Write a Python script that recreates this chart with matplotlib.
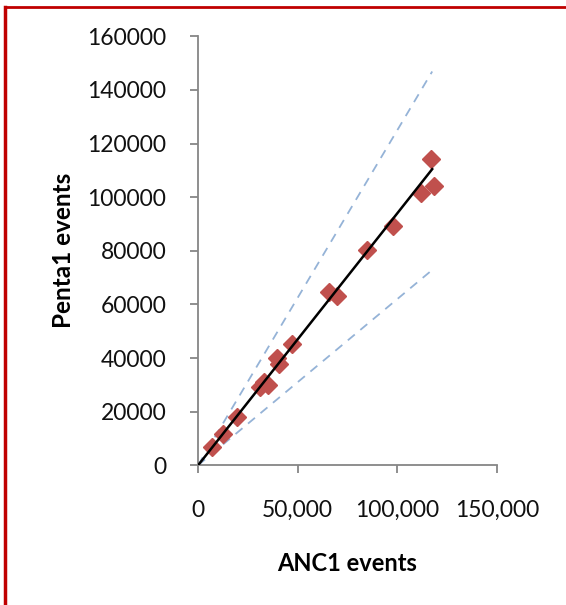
#! /usr/bin/env python3

import matplotlib
matplotlib.use("Agg")
import matplotlib.pyplot as plt
from matplotlib.lines import Line2D
from matplotlib.ticker import FuncFormatter

anc1_events = [7000, 12500, 19500, 31000, 33000, 35000, 39500, 40500, 47000,
               65500, 69500, 85000, 98000, 112000, 117000, 118500]
penta1_events = [6700, 11600, 17900, 29100, 31000, 30000, 39900, 37700, 45100,
                 64500, 63000, 80200, 89100, 101500, 114100, 104100]

fit_slope = 0.94
upper_slope = 1.25
lower_slope = 0.62
line_x = [0, 117500]

x_ticks = [0, 50000, 100000, 150000]
y_ticks = [0, 20000, 40000, 60000, 80000, 100000, 120000, 140000, 160000]

MARKER_COLOR = "#C0504D"
BAND_COLOR = "#95B3D7"
AXIS_COLOR = "#868686"
BORDER_COLOR = "#C00000"

plt.rcParams["font.family"] = ["Lato", "DejaVu Sans"]

fig = plt.figure(figsize=(5.66, 6.05), dpi=100)
ax = fig.add_axes([0.35, 0.231, 0.528, 0.709])

ax.plot(line_x, [upper_slope * x for x in line_x], color=BAND_COLOR, lw=1.3, ls=(0, (5, 4)), zorder=1)
ax.plot(line_x, [lower_slope * x for x in line_x], color=BAND_COLOR, lw=1.3, ls=(0, (5, 4)), zorder=1)
ax.plot(anc1_events, penta1_events, ls="none", marker="D", ms=9.5, color=MARKER_COLOR, zorder=2)
ax.plot(line_x, [fit_slope * x for x in line_x], color="black", lw=1.8, zorder=3)

ax.set_xlim(0, 150000)
ax.set_ylim(0, 160000)
ax.set_xticks(x_ticks)
ax.set_yticks(y_ticks)
ax.xaxis.set_major_formatter(FuncFormatter(lambda v, p: f"{int(v):,}"))
ax.yaxis.set_major_formatter(FuncFormatter(lambda v, p: f"{int(v)}"))
ax.tick_params(axis="both", direction="out", length=6, width=1.3, color=AXIS_COLOR,
               labelsize=16.5, labelcolor="#111111")
ax.tick_params(axis="y", pad=17)
ax.tick_params(axis="x", pad=19)
for side in ("top", "right"):
	ax.spines[side].set_visible(False)
for side in ("left", "bottom"):
	ax.spines[side].set_color(AXIS_COLOR)
	ax.spines[side].set_linewidth(1.3)

ax.set_xlabel("ANC1 events", fontsize=17, fontweight="bold", labelpad=22)
ax.set_ylabel("Penta1 events", fontsize=17.5, fontweight="bold", labelpad=9)

# red frame on the top and left edge of the figure
fig.add_artist(Line2D([5 / 566, 1], [1 - 7 / 605, 1 - 7 / 605], color=BORDER_COLOR, lw=2, transform=fig.transFigure))
fig.add_artist(Line2D([5 / 566, 5 / 566], [0, 1 - 7 / 605], color=BORDER_COLOR, lw=2.5, transform=fig.transFigure))

plt.savefig("out.png", dpi=100)
